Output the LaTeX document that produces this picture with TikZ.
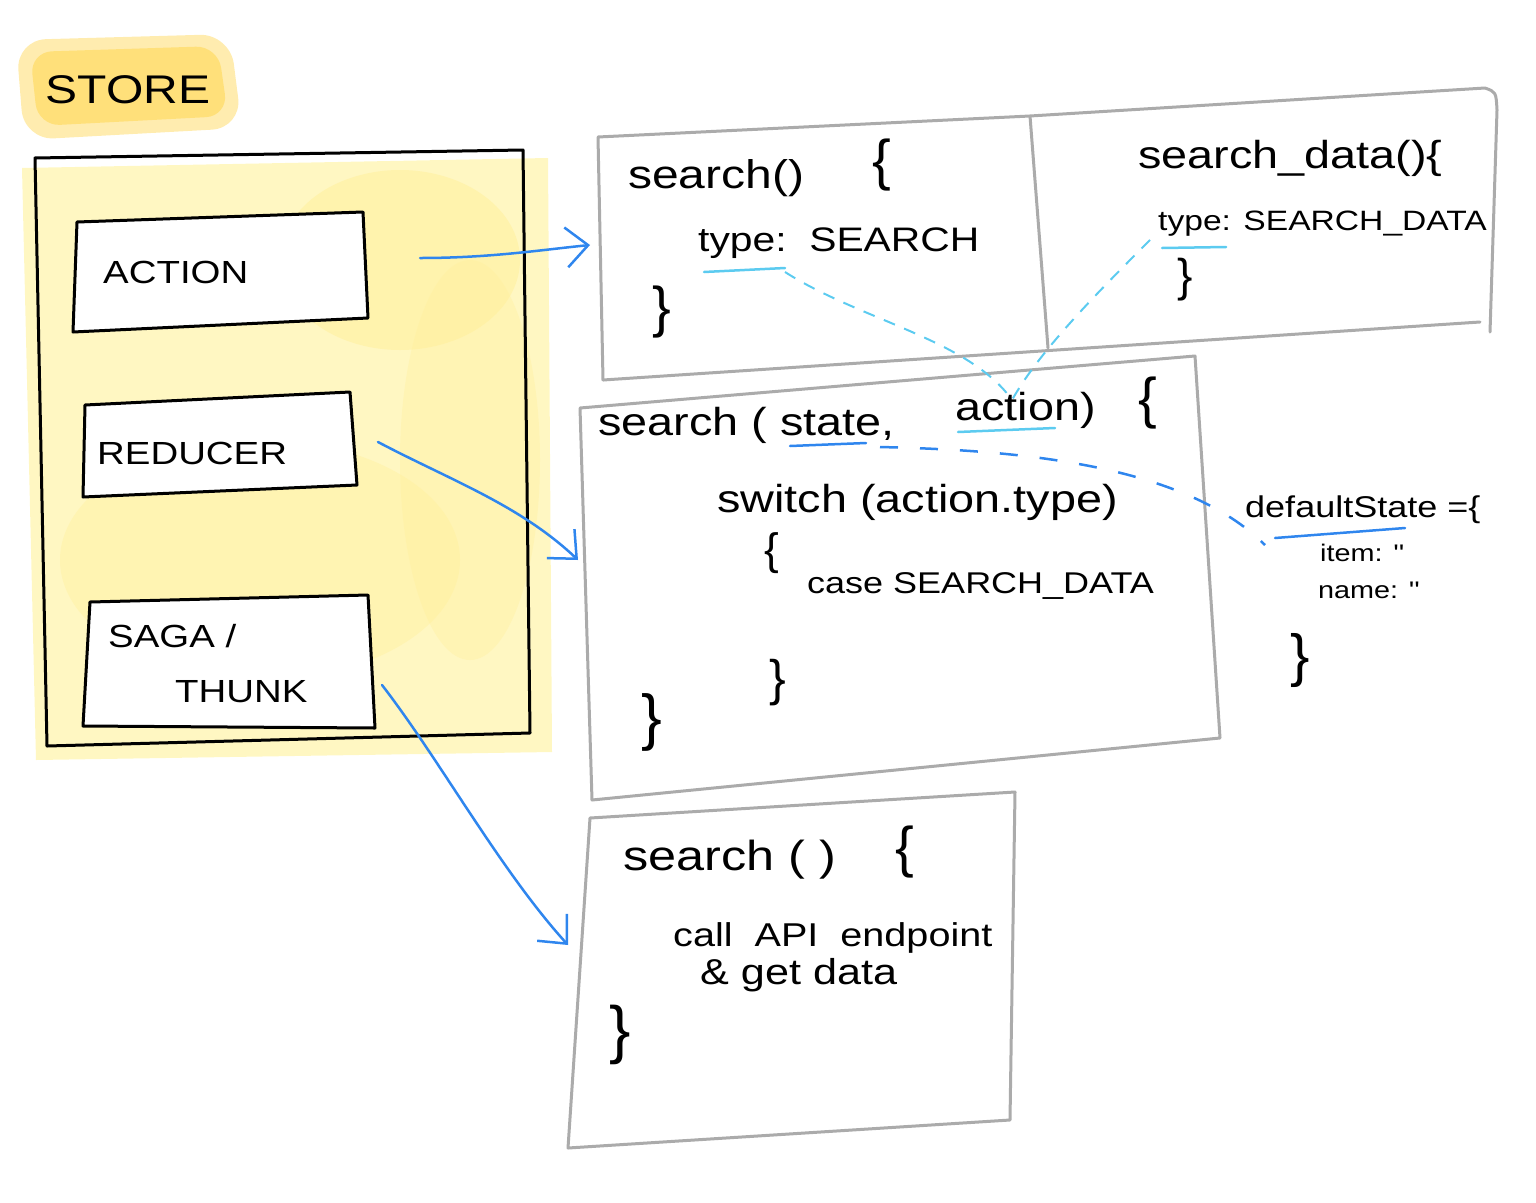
\documentclass[tikz,border=0pt]{standalone}
\usepackage{fontspec}
\setmainfont{Liberation Sans}
\newfontfamily\handfont[FakeStretch=1.2]{Liberation Sans}
\usetikzlibrary{arrows.meta}

\definecolor{washyellow}{HTML}{FFF7C2}
\definecolor{blotyellow}{HTML}{FFF09A}
\definecolor{storegold}{HTML}{FFE07A}
\definecolor{panelgray}{HTML}{ABABAB}
\definecolor{linkblue}{HTML}{2F86EE}
\definecolor{linkcyan}{HTML}{5CCBF0}

\begin{document}
\begin{tikzpicture}[
    x=1pt, y=-1pt,
    storeframe/.style={draw=black, line width=3pt, line join=round},
    panelline/.style={draw=panelgray, line width=3pt, line join=round, line cap=round},
    boxtext/.style={font=\handfont\fontsize{32}{38}\selectfont, inner sep=0pt, anchor=west},
    codetext/.style={font=\handfont\fontsize{#1}{#1}\selectfont, inner sep=0pt, anchor=west},
    codetext/.default=40,
    bracetext/.style={font=\fontsize{#1}{#1}\selectfont, inner sep=0pt},
    bracetext/.default=56,
    linkarrow/.style={draw=linkblue, line width=2.5pt, line cap=round,
        -{Straight Barb[length=22pt, width=40pt, line width=2.5pt]}},
    hintline/.style={draw=linkcyan, line width=2pt, dash pattern=on 12pt off 10pt},
    stateline/.style={draw=linkblue, line width=2.5pt, dash pattern=on 18pt off 22pt},
    uline/.style={line width=2.5pt, line cap=round}
]
\useasboundingbox (0,0) rectangle (1536,1202);

% store wash and title highlight
\fill[washyellow] (22,168) -- (548,158) -- (552,752) -- (36,760) -- cycle;
\fill[blotyellow, opacity=0.5] (400,260) ellipse (120pt and 90pt);
\fill[blotyellow, opacity=0.4] (260,560) ellipse (200pt and 120pt);
\fill[blotyellow, opacity=0.35] (470,460) ellipse (70pt and 200pt);
\fill[storegold!60, rounded corners=30pt] (16,40) -- (230,34) -- (242,128) -- (24,140) -- cycle;
\fill[storegold, rounded corners=22pt] (30,52) -- (218,46) -- (228,116) -- (38,126) -- cycle;

% store and its parts
\draw[storeframe] (35,158) -- (523,150) -- (530,733) -- (47,746) -- cycle;
\draw[storeframe, fill=white] (77,222) -- (363,212) -- (368,318) -- (73,332) -- cycle;
\draw[storeframe, fill=white] (85,405) -- (350,392) -- (357,485) -- (83,497) -- cycle;
\draw[storeframe, fill=white] (90,602) -- (368,595) -- (375,728) -- (83,726) -- cycle;

\node[boxtext, font=\handfont\fontsize{40}{44}\selectfont, anchor=center] (storeLabel) at (128,90) {STORE};
\node[boxtext] (actionLabel) at (103,272) {ACTION};
\node[boxtext] (reducerLabel) at (97,453) {REDUCER};
\node[boxtext] (sagaLabel) at (108,636) {SAGA /};
\node[boxtext] (thunkLabel) at (175,692) {THUNK};

% action panel
\draw[panelline] (603,380) -- (598,137) -- (1030,116) -- (1485,88) .. controls (1496,92) .. (1497,110) -- (1490,332);
\draw[panelline] (603,380) -- (1480,322);
\draw[panelline] (1030,116) -- (1048,348);

\node[codetext=40] (searchAction) at (628,178) {search()};
\node[bracetext] (searchOpen) at (882,165) {\{};
\node[codetext=34] (typeSearch) at (698,243) {type:\ \ SEARCH};
\node[bracetext] (searchClose) at (662,312) {\}};

\node[codetext=39] (dataAction) at (1138,158) {search\_data()\{};
\node[codetext=28] (typeData) at (1158,224) {type: SEARCH\_DATA};
\node[bracetext=46] (dataClose) at (1185,280) {\}};

% reducer panel
\draw[panelline] (592,800) -- (580,408) -- (1195,356) -- (1220,738) -- cycle;

\node[codetext=39] (reducerFn) at (598,425) {search ( state,};
\node[codetext=39] (reducerArg) at (955,410) {action)};
\node[bracetext] (reducerOpen) at (1148,403) {\{};
\node[codetext=39] (switchLine) at (717,502) {switch (action.type)};
\node[bracetext=44] (switchOpen) at (772,553) {\{};
\node[codetext=30] (caseLine) at (807,586) {case SEARCH\_DATA};
\node[bracetext=50] (switchClose) at (778,683) {\}};
\node[bracetext=62] (reducerClose) at (652,722) {\}};

% saga panel
\draw[panelline] (568,1148) -- (590,818) -- (1015,792) -- (1010,1120) -- cycle;

\node[codetext=42] (sagaFn) at (623,860) {search ( )};
\node[bracetext] (sagaOpen) at (905,852) {\{};
\node[codetext=33] (callLine) at (673,938) {call\ \ API\ \ endpoint};
\node[codetext=36] (getLine) at (700,975) {\& get data};
\node[bracetext=64] (sagaClose) at (620,1035) {\}};

% default state
\node[codetext=30] (defaultState) at (1245,510) {defaultState =\{};
\node[codetext=24] (itemLine) at (1320,553) {item: ''};
\node[codetext=24] (nameLine) at (1318,590) {name: ''};
\node[bracetext=58] (defaultClose) at (1300,660) {\}};

% underlines
\draw[uline, linkcyan] (704,272) -- (785,268);
\draw[uline, linkcyan] (958,432) -- (1055,428);
\draw[uline, linkcyan] (1162,248) -- (1226,247);
\draw[uline, linkblue] (790,446) -- (866,443);
\draw[uline, linkblue] (1275,538) -- (1405,528);

% connectors
\coordinate (actionOut) at (420,258);
\coordinate (actionIn) at (590,245);
\coordinate (reducerOut) at (378,442);
\coordinate (reducerIn) at (578,560);
\coordinate (sagaOut) at (382,685);
\coordinate (sagaIn) at (568,945);
\coordinate (typeSearchMark) at (785,272);
\coordinate (typeDataMark) at (1150,240);
\coordinate (actionMark) at (1012,400);
\coordinate (stateMark) at (880,447);
\coordinate (defaultMark) at (1265,545);

\draw[linkarrow] (actionOut) .. controls (490,258) and (540,250) .. (actionIn);
\draw[linkarrow] (reducerOut) .. controls (450,480) and (520,505) .. (reducerIn);
\draw[linkarrow] (sagaOut) .. controls (440,760) and (500,870) .. (sagaIn);

\draw[hintline] (typeSearchMark) .. controls (860,320) and (970,340) .. (actionMark);
\draw[hintline] (typeDataMark) .. controls (1100,290) and (1040,350) .. (actionMark);
\draw[stateline] (stateMark) .. controls (1000,450) and (1180,460) .. (defaultMark);
\end{tikzpicture}
\end{document}
